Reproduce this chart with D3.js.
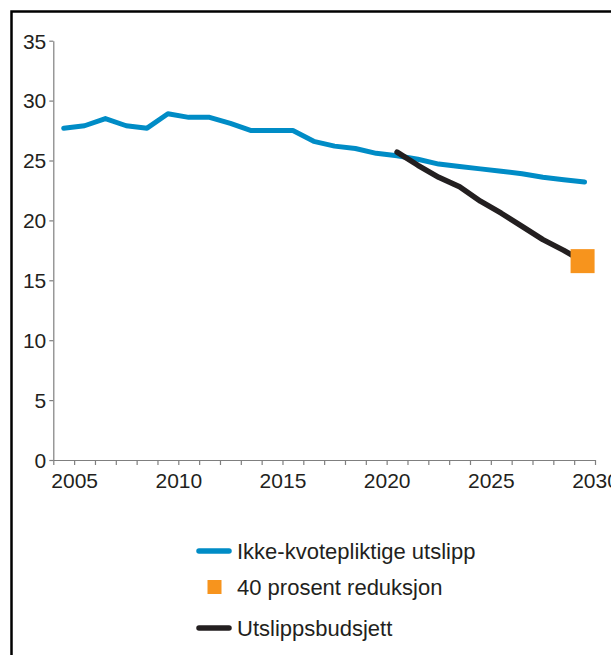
<!DOCTYPE html>
<html>
<head>
<meta charset="utf-8">
<script src="https://cdn.jsdelivr.net/npm/d3@7"></script>
<style>
  body { margin: 0; background: #fff; }
  svg { font-family: "Liberation Sans", Arial, sans-serif; }
  .axisText { fill: #231f20; font-size: 21px; }
  .legendText { fill: #231f20; font-size: 22px; }
</style>
</head>
<body>
<div id="chart"></div>
<script>
// Data
var years = [2005, 2006, 2007, 2008, 2009, 2010, 2011, 2012, 2013, 2014, 2015, 2016, 2017,
             2018, 2019, 2020, 2021, 2022, 2023, 2024, 2025, 2026, 2027, 2028, 2029, 2030];
var ikkeKvote = [27.7, 27.9, 28.5, 27.9, 27.7, 28.9, 28.6, 28.6, 28.1, 27.5, 27.5, 27.5, 26.6,
                 26.2, 26.0, 25.6, 25.4, 25.1, 24.7, 24.5, 24.3, 24.1, 23.9, 23.6, 23.4, 23.2];
var budsjettYears = [2021, 2022, 2023, 2024, 2025, 2026, 2027, 2028, 2029, 2030];
var budsjett = [25.7, 24.6, 23.6, 22.8, 21.6, 20.6, 19.5, 18.4, 17.5, 16.5];
var reduksjonYear = 2030;
var reduksjon = 16.6;
var yTicks = [0, 5, 10, 15, 20, 25, 30, 35];
var legendLabels = ["Ikke-kvotepliktige utslipp", "40 prosent reduksjon", "Utslippsbudsjett"];

var svgWidth = 611;
var svgHeight = 655;

var blue = "#008cc6";
var orange = "#f7941d";
var black = "#231f20";

var svg = d3.select("#chart")
  .append("svg")
  .attr("width", svgWidth)
  .attr("height", svgHeight);

// frame (only top and left edges are in view)
svg.append("rect")
  .attr("x", 11.5)
  .attr("y", 11.5)
  .attr("width", 800)
  .attr("height", 800)
  .attr("fill", "none")
  .attr("stroke", "#000")
  .attr("stroke-width", 2.5);

// Scales
// each year's point sits half a step left of its tick
var xScale = d3.scaleLinear()
  .domain([2004, 2030])
  .range([53.3, 595]);

var yScale = d3.scaleLinear()
  .domain([0, 35])
  .range([460, 40.7]);

var xPos = function(yr) { return xScale(yr - 0.5); };

// Axes
var allTicks = d3.range(2004, 2031);
var bottomAxis = d3.axisBottom(xScale)
  .tickValues(allTicks)
  .tickSize(5)
  .tickSizeOuter(0)
  .tickPadding(8)
  .tickFormat(function(d) { return d % 5 === 0 ? d : ""; });

var leftAxis = d3.axisLeft(yScale)
  .tickValues(yTicks)
  .tickSize(4)
  .tickSizeOuter(0)
  .tickPadding(3);

var xAxisG = svg.append("g")
  .attr("transform", "translate(0," + yScale(0) + ")")
  .call(bottomAxis);

var yAxisG = svg.append("g")
  .attr("transform", "translate(" + xScale(2004) + ",0)")
  .call(leftAxis);

[xAxisG, yAxisG].forEach(function(g) {
  g.selectAll("path, line").attr("stroke", "#7f7f7f").attr("stroke-width", 1.2);
  g.selectAll("text")
    .attr("class", "axisText")
    .attr("fill", "#231f20")
    .style("font-size", "21px");
});
yAxisG.selectAll("text").attr("dy", "0.35em");

// Lines
var line = d3.line()
  .x(function(d) { return xPos(d[0]); })
  .y(function(d) { return yScale(d[1]); });

svg.append("path")
  .datum(years.map(function(y, i) { return [y, ikkeKvote[i]]; }))
  .attr("d", line)
  .attr("fill", "none")
  .attr("stroke", blue)
  .attr("stroke-width", 5)
  .attr("stroke-linejoin", "round")
  .attr("stroke-linecap", "round");

svg.append("path")
  .datum(budsjettYears.map(function(y, i) { return [y, budsjett[i]]; }))
  .attr("d", line)
  .attr("fill", "none")
  .attr("stroke", black)
  .attr("stroke-width", 5.5)
  .attr("stroke-linejoin", "round")
  .attr("stroke-linecap", "round");

// 40 prosent reduksjon marker
var sq = 24;
svg.append("rect")
  .attr("x", xPos(reduksjonYear) - sq / 2 - 2)
  .attr("y", yScale(reduksjon) - sq / 2)
  .attr("width", sq)
  .attr("height", sq)
  .attr("fill", orange);

// Legend
var legend = svg.append("g");
var legendY = [551, 587, 628];

legend.append("line")
  .attr("x1", 199).attr("x2", 229)
  .attr("y1", legendY[0]).attr("y2", legendY[0])
  .attr("stroke", blue).attr("stroke-width", 5.5)
  .attr("stroke-linecap", "round");

legend.append("rect")
  .attr("x", 207.5).attr("y", legendY[1] - 7)
  .attr("width", 14).attr("height", 14)
  .attr("fill", orange);

legend.append("line")
  .attr("x1", 199).attr("x2", 229)
  .attr("y1", legendY[2]).attr("y2", legendY[2])
  .attr("stroke", black).attr("stroke-width", 5.5)
  .attr("stroke-linecap", "round");

legend.selectAll("text")
  .data(legendLabels)
  .enter()
  .append("text")
  .attr("class", "legendText")
  .attr("x", 237)
  .attr("y", function(d, i) { return legendY[i] + 8; })
  .text(function(d) { return d; });
</script>
</body>
</html>
